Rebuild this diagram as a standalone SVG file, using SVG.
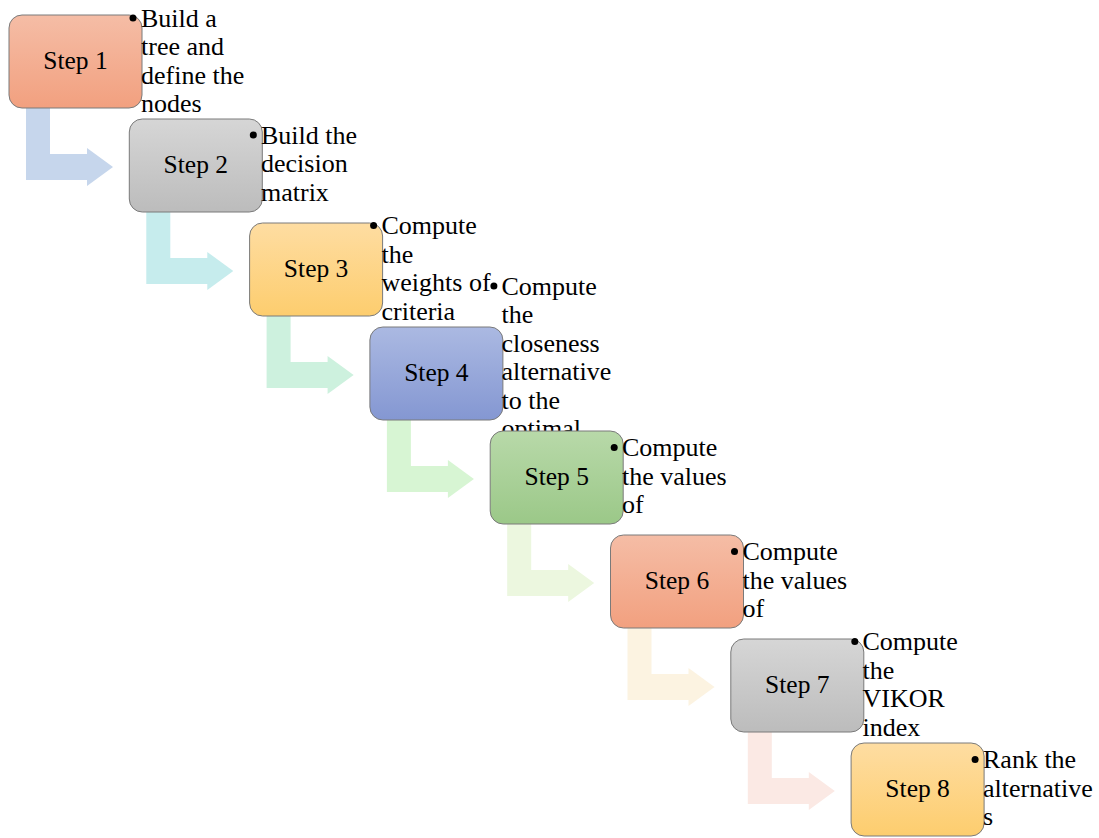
<svg xmlns="http://www.w3.org/2000/svg" width="1099" height="838" viewBox="0 0 1099 838">
<defs>
<linearGradient id="gOr" x1="0" y1="0" x2="0" y2="1"><stop offset="0" stop-color="#f5bda6"/><stop offset="1" stop-color="#f2a07f"/></linearGradient>
<linearGradient id="gGr" x1="0" y1="0" x2="0" y2="1"><stop offset="0" stop-color="#d6d6d6"/><stop offset="1" stop-color="#bcbcbc"/></linearGradient>
<linearGradient id="gYe" x1="0" y1="0" x2="0" y2="1"><stop offset="0" stop-color="#fedda2"/><stop offset="1" stop-color="#fdcd6e"/></linearGradient>
<linearGradient id="gBl" x1="0" y1="0" x2="0" y2="1"><stop offset="0" stop-color="#abb9e2"/><stop offset="1" stop-color="#8497d2"/></linearGradient>
<linearGradient id="gGn" x1="0" y1="0" x2="0" y2="1"><stop offset="0" stop-color="#b8d9a9"/><stop offset="1" stop-color="#9bc888"/></linearGradient>
<path id="arr" d="M17,85 H41 V139 H78 V133 L104,152 L78,171 V165 H17 Z"/>
</defs>
<style>
.box{stroke:#7a7a7a;stroke-width:1}
.lbl{font-family:"Liberation Serif","Times New Roman",serif;font-size:25.5px;fill:#000;text-anchor:middle}
.txt{font-family:"Liberation Serif","Times New Roman",serif;font-size:26px;fill:#000}
.dot{fill:#000}
</style>
<rect width="1099" height="838" fill="#fff"/>
<g id="connectors">
<use href="#arr" transform="translate(9,15)" fill="#c6d6ec"/>
<use href="#arr" transform="translate(129.3,119)" fill="#c6eced"/>
<use href="#arr" transform="translate(249.6,223)" fill="#cdf1de"/>
<use href="#arr" transform="translate(369.9,327)" fill="#d7f5d3"/>
<use href="#arr" transform="translate(490.2,431)" fill="#ecf7df"/>
<use href="#arr" transform="translate(610.5,535)" fill="#fcf3e1"/>
<use href="#arr" transform="translate(730.8,639)" fill="#fbe9e4"/>
</g>
<g id="step1">
<rect class="box" x="9" y="15" width="133" height="93" rx="13" fill="url(#gOr)"/>
<text class="lbl" x="75.5" y="69">Step 1</text>
<circle class="dot" cx="133" cy="18" r="3.5"/>
<text class="txt" x="141" y="26.5">Build a</text>
<text class="txt" x="141" y="55">tree and</text>
<text class="txt" x="141" y="83.5">define the</text>
<text class="txt" x="141" y="112">nodes</text>
</g>
<g id="step2">
<rect class="box" x="129.3" y="119" width="133" height="93" rx="13" fill="url(#gGr)"/>
<text class="lbl" x="195.8" y="173">Step 2</text>
<circle class="dot" cx="253.3" cy="135" r="3.5"/>
<text class="txt" x="261" y="143.5">Build the</text>
<text class="txt" x="261" y="172">decision</text>
<text class="txt" x="261" y="200.5">matrix</text>
</g>
<g id="step3">
<rect class="box" x="249.6" y="223" width="133" height="93" rx="13" fill="url(#gYe)"/>
<text class="lbl" x="316.1" y="277">Step 3</text>
<circle class="dot" cx="373.6" cy="225.5" r="3.5"/>
<text class="txt" x="381.5" y="234">Compute</text>
<text class="txt" x="381.5" y="262.5">the</text>
<text class="txt" x="381.5" y="291">weights of</text>
<text class="txt" x="381.5" y="319.5">criteria</text>
</g>
<g id="step4">
<rect class="box" x="369.9" y="327" width="133" height="93" rx="13" fill="url(#gBl)"/>
<text class="lbl" x="436.4" y="381">Step 4</text>
<circle class="dot" cx="493.9" cy="286" r="3.5"/>
<text class="txt" x="501.5" y="294.5">Compute</text>
<text class="txt" x="501.5" y="323">the</text>
<text class="txt" x="501.5" y="351.5">closeness</text>
<text class="txt" x="501.5" y="380">alternative</text>
<text class="txt" x="501.5" y="408.5">to the</text>
<text class="txt" x="501.5" y="437">optimal</text>
</g>
<g id="step5">
<rect class="box" x="490.2" y="431" width="133" height="93" rx="13" fill="url(#gGn)"/>
<text class="lbl" x="556.7" y="485">Step 5</text>
<circle class="dot" cx="614.2" cy="447.5" r="3.5"/>
<text class="txt" x="622" y="456">Compute</text>
<text class="txt" x="622" y="484.5">the values</text>
<text class="txt" x="622" y="513">of</text>
</g>
<g id="step6">
<rect class="box" x="610.5" y="535" width="133" height="93" rx="13" fill="url(#gOr)"/>
<text class="lbl" x="677" y="589">Step 6</text>
<circle class="dot" cx="734.5" cy="551.5" r="3.5"/>
<text class="txt" x="742.5" y="560">Compute</text>
<text class="txt" x="742.5" y="588.5">the values</text>
<text class="txt" x="742.5" y="617">of</text>
</g>
<g id="step7">
<rect class="box" x="730.8" y="639" width="133" height="93" rx="13" fill="url(#gGr)"/>
<text class="lbl" x="797.3" y="693">Step 7</text>
<circle class="dot" cx="854.8" cy="641.5" r="3.5"/>
<text class="txt" x="862.5" y="650">Compute</text>
<text class="txt" x="862.5" y="678.5">the</text>
<text class="txt" x="862.5" y="707">VIKOR</text>
<text class="txt" x="862.5" y="735.5">index</text>
</g>
<g id="step8">
<rect class="box" x="851.1" y="743" width="133" height="93" rx="13" fill="url(#gYe)"/>
<text class="lbl" x="917.6" y="797">Step 8</text>
<circle class="dot" cx="975.1" cy="759.5" r="3.5"/>
<text class="txt" x="983" y="768">Rank the</text>
<text class="txt" x="983" y="796.5">alternative</text>
<text class="txt" x="983" y="825">s</text>
</g>
</svg>
